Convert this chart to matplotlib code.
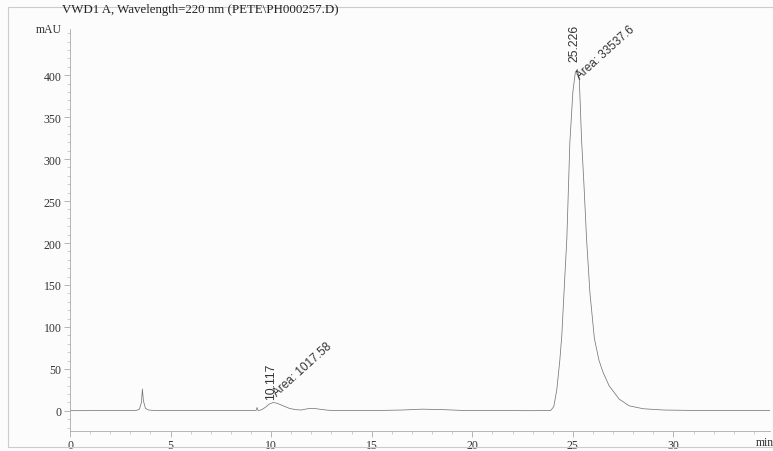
import matplotlib.pyplot as plt
from matplotlib.patches import Rectangle
from matplotlib.ticker import MultipleLocator

# 読み取ったクロマトグラムの点 (時間 min, 信号 mAU)
times = [0.0, 1.5, 3.0, 3.3, 3.45, 3.55, 3.6, 3.65, 3.75, 3.9, 4.2, 6.0, 8.0,
         9.2, 9.25, 9.3, 9.35, 9.5, 9.7, 9.9, 10.1, 10.3, 10.6, 10.9, 11.2,
         11.5, 11.8, 12.1, 12.4, 12.8, 13.2, 15.0, 16.5, 17.5, 18.5, 19.5,
         23.0, 23.9, 24.05, 24.2, 24.35, 24.45, 24.6, 24.7, 24.85, 25.0,
         25.12, 25.22, 25.32, 25.43, 25.55, 25.68, 25.85, 26.07, 26.3, 26.5,
         26.8, 27.3, 27.8, 28.5, 29.5, 31.0, 34.8]
signal = [0.2, 0.3, 0.3, 0.5, 2, 10, 26, 12, 3, 1, 0.5, 0.4, 0.4,
          0.5, 0.5, 4, 0.5, 1, 4, 8, 10, 9, 6, 3, 1.5,
          1, 2.5, 3, 2, 0.8, 0.3, 0.3, 1, 2, 1.5, 0.5,
          0.2, 0.5, 5, 25, 60, 90, 160, 205, 320, 380,
          403, 407, 395, 324, 270, 205, 140, 86, 60, 46,
          30, 14, 6, 2.5, 1, 0.5, 0.3]

# ピーク情報
peak_rt = ['10.117', '25.226']
peak_area = ['Area: 1017.58', 'Area: 33537.6']
rt_pos = [(9.98, 14.5), (25.1, 417)]
area_pos = [(10.37, 14.5), (25.43, 393)]

title = 'VWD1 A, Wavelength=220 nm (PETE\\PH000257.D)'

W, H = 773, 452
fig = plt.figure(figsize=(W / 100, H / 100), dpi=100)
fig.patch.set_facecolor('#fcfcfc')
ax = fig.add_axes([70 / W, 20 / H, 1 - 70 / W - 3 / W, (432 - 30) / H])
ax.set_facecolor('none')

ax.plot(times, signal, color='#777777', lw=0.55)

ax.set_xlim(0, 34.8)
ax.set_ylim(-24, 455)
ax.xaxis.set_major_locator(MultipleLocator(5))
ax.xaxis.set_minor_locator(MultipleLocator(1))
ax.set_yticks(range(0, 401, 50))
ax.yaxis.set_minor_locator(MultipleLocator(10))
for s in ['top', 'right']:
    ax.spines[s].set_visible(False)
for s in ['left', 'bottom']:
    ax.spines[s].set_color('#aaaaaa')
    ax.spines[s].set_linewidth(0.6)
ax.tick_params(which='major', length=4, width=0.6, color='#aaaaaa',
               labelsize=8.5, labelcolor='#333333', pad=2)
ax.tick_params(which='minor', length=2, width=0.5, color='#bbbbbb')
for lab in ax.get_xticklabels() + ax.get_yticklabels():
    lab.set_family('Liberation Serif')

# ピークのラベル
for i in range(len(peak_rt)):
    ax.text(rt_pos[i][0], rt_pos[i][1], peak_rt[i], rotation=90,
            ha='center', va='bottom', fontsize=8.8,
            family='Liberation Sans', color='#333333')
    ax.text(area_pos[i][0], area_pos[i][1], peak_area[i], rotation=42,
            rotation_mode='anchor', ha='left', va='bottom', fontsize=8.5,
            family='Liberation Sans', color='#333333')

fig.text(62 / W, 1 - 10 / H, title, ha='left', va='center', fontsize=9.3,
         family='Liberation Serif', color='#222222')
fig.text(62 / W, 1 - 30 / H, 'mAU', ha='right', va='center', fontsize=8.5,
         family='Liberation Serif', color='#333333')
fig.text(756 / W, 1 - 443 / H, 'min', ha='left', va='center', fontsize=8.5,
         family='Liberation Serif', color='#333333')

# スキャン画像の枠
fig.patches.append(Rectangle((8 / W, 4 / H), 1, 1 - 12 / H, transform=fig.transFigure,
                             fill=False, ec='#cccccc', lw=0.8))

fig.savefig('out.png', dpi=100, facecolor=fig.get_facecolor())
